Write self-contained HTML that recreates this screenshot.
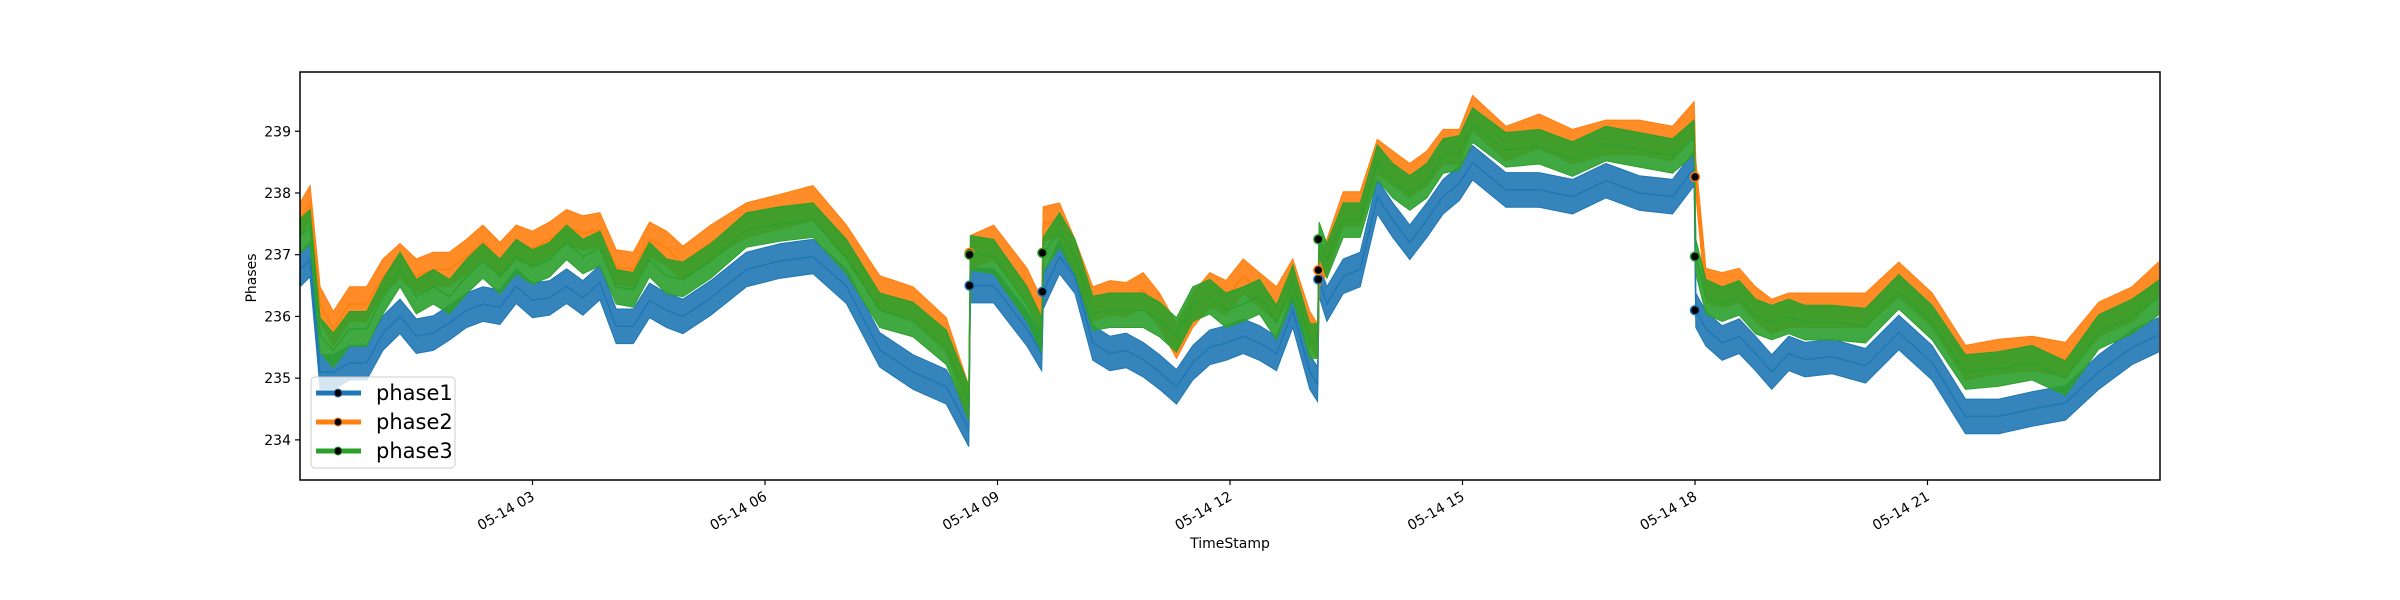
<!DOCTYPE html>
<html><head><meta charset="utf-8"><style>
html,body{margin:0;padding:0;background:#fff;}
svg{display:block;font-family:"DejaVu Sans","Liberation Sans",sans-serif;}
</style></head><body>
<svg id="chart" width="2400" height="600" viewBox="0 0 2400 600" xmlns="http://www.w3.org/2000/svg">
<g id="plot"></g>
<g id="axes"></g>
</svg>
<script>
// ---- data (hours since 05-14 00:00, voltage) ----
const times = [0,0.13,0.26,0.43,0.64,0.86,1.07,1.29,1.5,1.72,1.93,2.15,2.36,2.58,2.79,3.0,3.22,3.44,3.65,3.87,4.08,4.3,4.51,4.73,4.94,5.3,5.76,6.2,6.62,7.05,7.48,7.91,8.34,8.63,8.65,8.95,9.38,9.57,9.59,9.8,10.0,10.23,10.45,10.66,10.88,11.09,11.31,11.52,11.74,11.95,12.17,12.38,12.6,12.81,13.03,13.13,13.15,13.25,13.46,13.68,13.9,14.1,14.32,14.54,14.75,14.96,15.13,15.56,15.99,16.42,16.85,17.28,17.71,17.99,18.01,18.14,18.35,18.57,18.78,18.99,19.21,19.42,19.77,20.2,20.63,21.06,21.49,21.92,22.35,22.78,23.21,23.64,23.98];
const phase1 = [236.76,236.92,235.1,235.1,235.25,235.25,235.73,236.0,235.68,235.73,235.9,236.1,236.2,236.15,236.49,236.26,236.3,236.49,236.3,236.55,235.84,235.84,236.26,236.1,236.0,236.3,236.76,236.9,236.97,236.49,235.46,235.1,234.86,234.17,236.5,236.5,235.8,235.4,236.4,236.97,236.65,235.57,235.4,235.45,235.3,235.1,234.86,235.25,235.5,235.57,235.68,235.57,235.4,236.1,235.1,234.9,236.6,236.2,236.65,236.76,237.94,237.56,237.2,237.56,237.94,238.16,238.49,238.05,238.05,237.94,238.2,238.0,237.94,238.4,236.1,235.8,235.57,235.68,235.4,235.1,235.4,235.3,235.35,235.2,235.74,235.25,234.38,234.38,234.5,234.6,235.1,235.5,235.7];
const phase2 = [237.56,237.84,236.2,235.8,236.2,236.2,236.65,236.9,236.65,236.76,236.76,236.97,237.2,236.92,237.2,237.1,237.25,237.45,237.35,237.4,236.8,236.76,237.25,237.1,236.86,237.2,237.56,237.7,237.84,237.2,236.38,236.2,235.7,234.6,237.03,237.2,236.5,236.0,237.5,237.56,236.97,236.2,236.3,236.27,236.43,236.1,235.6,236.1,236.43,236.3,236.65,236.43,236.2,236.65,235.8,235.6,236.75,236.97,237.74,237.74,238.59,238.4,238.2,238.4,238.75,238.75,239.3,238.8,239.0,238.75,238.9,238.9,238.8,239.2,238.26,236.5,236.43,236.5,236.2,236.0,236.1,236.1,236.1,236.1,236.6,236.1,235.25,235.35,235.4,235.3,235.95,236.2,236.6];
const phase3 = [237.3,237.45,235.7,235.45,235.8,235.8,236.32,236.76,236.32,236.48,236.32,236.65,236.9,236.65,236.97,236.8,236.92,237.2,236.97,237.1,236.48,236.43,236.92,236.65,236.6,236.9,237.4,237.5,237.56,236.97,236.1,235.95,235.5,234.6,237.03,236.97,236.2,235.7,237.0,237.4,236.97,236.05,236.1,236.1,236.1,235.95,235.7,236.2,236.32,236.1,236.2,236.32,235.9,236.55,235.6,235.6,237.25,236.9,237.56,237.56,238.5,238.2,238.0,238.2,238.6,238.65,239.1,238.7,238.75,238.55,238.8,238.7,238.6,238.9,236.97,236.32,236.2,236.3,236.0,235.9,236.0,235.9,235.9,235.85,236.4,235.9,235.1,235.15,235.25,235.0,235.75,236.0,236.3];
const markerTimes = [8.64,8.64,8.64,9.58,9.58,13.14,13.14,13.14,18.0,18.0,18.0];
const markerValues = [236.5,237.03,237.0,236.4,237.03,236.6,236.75,237.25,236.1,238.26,236.97];
const markerSeries = [0,1,2,0,2,0,1,2,0,1,2];
const seriesNames = ["phase1","phase2","phase3"];
const yTicks = [234,235,236,237,238,239];
const xTickHours = [3,6,9,12,15,18,21];
const xTickLabels = ["05-14 03","05-14 06","05-14 09","05-14 12","05-14 15","05-14 18","05-14 21"];

// ---- layout ----
const L=300,R=2160,T=72,B=480;
const X0=0,X1=24,Y0=233.35,Y1=239.96;
const colors=["#1f77b4","#ff7f0e","#2ca02c"];
const noise=0.28;
function xs(h){return L+(h-X0)/(X1-X0)*(R-L);}
function ys(v){return B-(v-Y0)/(Y1-Y0)*(B-T);}
const NS="http://www.w3.org/2000/svg";
function mk(tag,attrs,parent){const e=document.createElementNS(NS,tag);for(const k in attrs)e.setAttribute(k,attrs[k]);parent.appendChild(e);return e;}
const plot=document.getElementById('plot'),axes=document.getElementById('axes');
mk('defs',{},plot).innerHTML='<clipPath id="clip"><rect x="300" y="72" width="1860" height="408"/></clipPath>';
const clipG=mk('g',{'clip-path':'url(#clip)'},plot);
[phase1,phase2,phase3].forEach((vals,si)=>{
  let up='',dn='';
  for(let i=0;i<times.length;i++){up+=(i?'L':'M')+xs(times[i]).toFixed(1)+','+ys(vals[i]+noise).toFixed(1);}
  for(let i=times.length-1;i>=0;i--){dn+='L'+xs(times[i]).toFixed(1)+','+ys(vals[i]-noise).toFixed(1);}
  const band=mk('path',{d:up+dn+'Z',fill:colors[si],'fill-opacity':0.9,stroke:colors[si],'stroke-width':1},clipG);
  
  
  let d='';
  for(let i=0;i<times.length;i++){d+=(i?'L':'M')+xs(times[i]).toFixed(1)+','+ys(vals[i]).toFixed(1);}
  const line=mk('path',{d:d,fill:'none',stroke:colors[si],'stroke-width':1.5},clipG);
  
  
});
for(let i=0;i<markerTimes.length;i++){
  const c=mk('circle',{cx:xs(markerTimes[i]),cy:ys(markerValues[i]),r:4.5,fill:'#000',stroke:colors[markerSeries[i]],'stroke-width':1.5},clipG);
  
  
}
// frame
const fr=mk('rect',{x:L,y:T,width:R-L,height:B-T,fill:'none',stroke:'#000','stroke-width':1.5},axes);


yTicks.forEach(v=>{
  const y=ys(v);
  const tk=mk('line',{x1:L,x2:L-5,y1:y,y2:y,stroke:'#000','stroke-width':1.2},axes);
  
  
  const t=mk('text',{x:L-9,y:y+5,'text-anchor':'end','font-size':14,fill:'#000'},axes);
  t.textContent=v;
  
  
});
xTickHours.forEach((h,i)=>{
  const x=xs(h);
  const tk=mk('line',{x1:x,x2:x,y1:B,y2:B+5,stroke:'#000','stroke-width':1.2},axes);
  
  
  const t=mk('text',{x:x,y:B+20,'text-anchor':'end','font-size':14,fill:'#000',transform:'rotate(-30 '+x+' '+(B+14)+')'},axes);
  t.textContent=xTickLabels[i];
  
  
});
</script>
<svg style="position:absolute;left:0;top:0" width="2400" height="600">
<text x="0" y="0" transform="translate(256,278) rotate(-90)" text-anchor="middle" font-size="14" font-family="DejaVu Sans, Liberation Sans, sans-serif">Phases</text>
<text x="1230" y="548" text-anchor="middle" font-size="14" font-family="DejaVu Sans, Liberation Sans, sans-serif">TimeStamp</text>
<g font-family="DejaVu Sans, Liberation Sans, sans-serif" font-size="21">
<rect x="311" y="377" width="144" height="91" rx="4" fill="#fff" fill-opacity="0.8" stroke="#ccc"/>
<g><line x1="316" x2="361" y1="393" y2="393" stroke="#1f77b4" stroke-width="5"/><circle cx="338" cy="393" r="4" fill="#000" stroke="#1f77b4"/><text x="376" y="400">phase1</text></g>
<g><line x1="316" x2="361" y1="422" y2="422" stroke="#ff7f0e" stroke-width="5"/><circle cx="338" cy="422" r="4" fill="#000" stroke="#ff7f0e"/><text x="376" y="429">phase2</text></g>
<g><line x1="316" x2="361" y1="451" y2="451" stroke="#2ca02c" stroke-width="5"/><circle cx="338" cy="451" r="4" fill="#000" stroke="#2ca02c"/><text x="376" y="458">phase3</text></g>
</g>
</svg>
</body></html>
